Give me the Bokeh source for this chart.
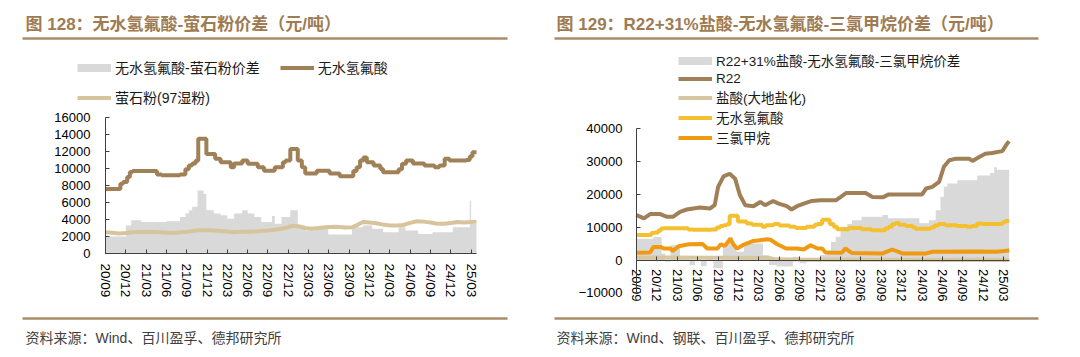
from bokeh.plotting import figure
from bokeh.models import Range1d, FixedTicker, Legend, LegendItem, LinearAxis
from bokeh.layouts import row
from bokeh.embed import file_html
from bokeh.resources import INLINE
from bokeh.core.properties import value

# ---------------- data (months since 2020-09) ----------------
tick_months = [0, 3, 6, 9, 12, 15, 18, 21, 24, 27, 30, 33, 36, 39, 42, 45, 48, 51, 54]
tick_labels = ["20/09", "20/12", "21/03", "21/06", "21/09", "21/12", "22/03", "22/06",
               "22/09", "22/12", "23/03", "23/06", "23/09", "23/12", "24/03", "24/06",
               "24/09", "24/12", "25/03"]

# 无水氢氟酸 (元/吨)
hf_m = [0, 2.2, 2.6, 3.2, 3.6, 4.0, 7.6, 8.3, 11.0, 11.8, 12.3, 12.8, 13.3, 13.7, 14.9,
        16.2, 17.0, 18.5, 19.0, 20.2, 21.0, 22.5, 23.4, 25.0, 26.2, 26.6, 27.3, 28.4, 29.0,
        29.5, 31.2, 33.1, 34.6, 36.6, 37.1, 37.6, 38.1, 38.6, 39.6, 40.6, 41.0, 43.3, 43.8,
        44.4, 45.4, 47.1, 48.6, 49.3, 50.1, 50.8, 53.3, 53.8, 54.2, 54.8]
hf_v = [7600, 8200, 8400, 9000, 9600, 9700, 9300, 9200, 9300, 9900, 10350, 10600, 10900,
        13500, 11700, 11150, 10750, 10150, 10600, 10950, 10550, 10150, 9750, 10150, 10750,
        10950, 12300, 10950, 10150, 9400, 9750, 9400, 9100, 9700, 10150, 10950, 11300, 10750,
        10350, 9950, 9550, 9900, 10550, 10950, 10600, 10350, 10150, 10350, 11150, 10950,
        11000, 11400, 11900, 11900]

# 萤石粉(97湿粉)
fl_m = [0, 1, 2, 3, 4, 6, 8, 10, 12, 13, 14, 15, 16, 17, 18, 19, 20, 21, 22, 23, 24, 25,
        26, 27, 27.5, 28.5, 29.5, 30.5, 31.5, 32.5, 34, 35.5, 36.5, 37.3, 38, 39, 40, 41,
        42, 43, 44, 45, 46, 47, 48, 49, 50, 51, 52, 53, 54, 54.8]
fl_v = [2500, 2450, 2350, 2400, 2500, 2550, 2500, 2400, 2550, 2650, 2750, 2750, 2700, 2650,
        2600, 2500, 2550, 2550, 2600, 2650, 2700, 2800, 2900, 3100, 3250, 3200, 3000, 2900,
        3000, 3100, 3150, 3050, 3100, 3400, 3700, 3650, 3550, 3400, 3300, 3300, 3350, 3600,
        3800, 3750, 3650, 3500, 3500, 3600, 3700, 3650, 3700, 3750]

# 无水氢氟酸-萤石粉价差
sp1_m = [0, 3.0, 3.8, 5.3, 9.0, 11.0, 11.8, 12.3, 12.8, 13.6, 14.5, 14.9, 16.0, 17.0, 18.0,
         19.0, 20.2, 21.0, 22.0, 23.0, 24.6, 25.0, 26.0, 27.3, 28.4, 29.5, 31.0, 32.9, 36.4,
         38.0, 39.4, 41.0, 43.3, 44.3, 46.2, 48.3, 51.3, 53.8, 54.0, 54.8]
sp1_v = [2000, 3300, 3900, 3700, 3800, 4300, 4700, 5100, 5500, 7400, 7000, 5100, 4700, 4500,
         4100, 4700, 5100, 4700, 4300, 3700, 4400, 3500, 4300, 5100, 3300, 2700, 2900, 2250,
         3100, 3300, 2900, 2500, 3100, 2700, 2300, 2500, 3100, 6200, 3500, 3500]

# R22
r22_m = [0, 1.1, 2, 3.5, 4.4, 5.4, 6.4, 7.4, 9.3, 10.8, 11.5, 12.0, 12.8, 13.7, 14.5, 15.2,
         16.0, 17.2, 18.2, 18.9, 20.1, 20.9, 22.1, 22.8, 23.6, 24.6, 25.8, 27.0, 29.3, 30.0,
         30.8, 33.7, 34.7, 36.2, 37.1, 42.0, 42.6, 43.5, 44.5, 45.2, 46.0, 47.0, 48.9, 49.4,
         50.4, 51.3, 52.3, 53.8, 54.5, 54.8]
r22_v = [13700, 12700, 14000, 14000, 13200, 13200, 14700, 15400, 16000, 15700, 16700, 22300,
         25500, 26300, 24800, 19800, 16700, 16400, 17700, 16700, 18000, 17200, 16400, 15400,
         16400, 17200, 18000, 18200, 18200, 19200, 20400, 20400, 19200, 19100, 20000, 20000,
         21800, 22300, 23800, 28400, 30400, 30900, 30900, 30200, 31400, 32400, 32600, 33200,
         35500, 36200]

# 盐酸(大地盐化)
hcl_m = [0, 5, 10, 15, 19.5, 20.5, 25, 30, 35, 40, 45, 50, 54.8]
hcl_v = [700, 750, 700, 700, 600, 200, 100, 150, 100, 50, 0, 50, 0]

# 三氯甲烷
cm_m = [0, 2.0, 2.5, 3.5, 4.0, 5.0, 5.3, 6.2, 7.7, 9.7, 10.4, 11.9, 12.4, 13.0, 13.8, 14.3,
        14.8, 15.8, 17.2, 19.2, 19.7, 20.7, 22.0, 23.6, 24.6, 25.6, 26.6, 27.3, 27.8, 30.2,
        30.7, 31.7, 36.2, 37.6, 39.1, 42.6, 43.5, 50.0, 53.0, 54.8]
cm_v = [2200, 2300, 4000, 4000, 3500, 3500, 2700, 4200, 4800, 4900, 3500, 3500, 4800, 4300,
        6500, 4600, 3500, 4700, 5800, 6300, 6200, 4800, 3500, 3500, 3200, 4500, 3500, 3500,
        2300, 2200, 3500, 2100, 2000, 3200, 2000, 2000, 2500, 2600, 2500, 2900]

# R22+31%盐酸-无水氢氟酸-三氯甲烷价差
sp2_m = [0, 2.5, 3.7, 4.2, 5.0, 6.4, 7.8, 8.6, 9.5, 10.3, 11.3, 12.7, 13.5, 14.2, 14.7,
         15.8, 18.6, 19.5, 20.6, 23.0, 24.0, 25.0, 27.0, 28.0, 28.6, 29.3, 30.0, 31.0, 31.7,
         33.1, 36.2, 37.0, 41.6, 43.0, 44.0, 44.7, 45.2, 45.7, 47.2, 50.1, 52.0, 52.6, 53.0,
         54.8]
sp2_v = [6500, 7000, 2000, -500, 4500, 1200, -1500, 1000, -1800, 800, -2500, 4500, 7000,
         5000, 2500, 5000, 1500, -1500, -2000, 1000, -1000, -500, 1500, 3000, 5500, 7100,
         10100, 11000, 12100, 13200, 13700, 12700, 11200, 12100, 15200, 19200, 22300, 23300,
         24300, 25800, 26500, 28300, 27500, 27500]

# ---------------- style ----------------
FONT = "Liberation Sans, Noto Sans CJK SC"
TITLE_C = "#9E7B52"
RULE_C = "#A88C6C"
BROWN = "#A08057"
TAN = "#D8C49C"
GRAY = "#D9D9D9"
HCL_C = "#D6C7A1"
YELLOW = "#F4C030"
ORANGE = "#F09A12"
AXIS_C = "#404040"
W, H = 540, 357


def panel(x_px0, px_per_month, y_px0, px_per_unit, y_lo, y_hi, yticks):
    """Figure whose frame covers the whole panel; data scales are anchored at the
    pixel positions of the reference axes."""
    xr = Range1d(-x_px0 / px_per_month, (W - x_px0) / px_per_month)
    yr = Range1d(-(H - y_px0) / px_per_unit, y_px0 / px_per_unit)
    p = figure(width=W, height=H, x_range=xr, y_range=yr, x_axis_location=None,
               y_axis_location=None, toolbar_location=None, output_backend="svg",
               min_border=0)
    p.extra_x_ranges = {"px": Range1d(0, W)}
    p.extra_y_ranges = {"px": Range1d(H, 0)}
    p.grid.visible = False
    p.outline_line_color = None
    xax = LinearAxis(fixed_location=0, bounds=(0, 54.8), ticker=FixedTicker(ticks=tick_months),
                     major_label_overrides={m: lab for m, lab in zip(tick_months, tick_labels)},
                     major_label_orientation="vertical")
    yax = LinearAxis(fixed_location=0, bounds=(y_lo, y_hi), ticker=FixedTicker(ticks=yticks))
    for ax in (xax, yax):
        ax.axis_line_color = AXIS_C
        ax.major_tick_line_color = AXIS_C
        ax.minor_tick_line_color = None
        ax.major_tick_in = 4
        ax.major_tick_out = 0
        ax.major_label_text_font = FONT
        ax.major_label_text_font_size = "13px"
        ax.major_label_text_color = "#000000"
    p.add_layout(xax, "below")
    p.add_layout(yax, "left")
    return p, xax, yax


def decorate(p, title, x_text, x0, x1, source):
    p.text(x=[x_text], y=[24], text=[title], text_font=value(FONT), text_font_size="17px",
           text_font_style="bold", text_color=TITLE_C, text_baseline="middle",
           x_range_name="px", y_range_name="px")
    p.segment(x0=[x0, x0], y0=[38, 318], x1=[x1, x1], y1=[38, 318], line_width=2.5,
              line_color=RULE_C, x_range_name="px", y_range_name="px")
    p.text(x=[x_text], y=[337], text=[source], text_font=value(FONT), text_font_size="14px",
           text_color="#404040", text_baseline="middle", x_range_name="px", y_range_name="px")


def legend(items, loc, orientation="vertical", spacing=0, size="13.5px"):
    return Legend(items=items, location=loc, orientation=orientation, spacing=spacing,
                  padding=0, margin=0, border_line_color=None, background_fill_alpha=0,
                  glyph_width=34, glyph_height=17, label_height=17, label_standoff=4,
                  label_text_font=FONT, label_text_font_size=size,
                  label_text_color="#1a1a1a")


# ---------------- left chart ----------------
p1, xax1, yax1 = panel(105, 6.77, 253, 8.5 / 1000, 0, 16000, list(range(0, 16001, 2000)))
xax1.major_label_standoff = 10
xax1.major_label_text_font_size = "13.5px"
yax1.major_label_standoff = 15
r_sp1 = p1.varea_step(x=sp1_m, y1=[0] * len(sp1_m), y2=sp1_v, step_mode="after",
                      fill_color=GRAY)
r_hf1 = p1.step(hf_m, hf_v, mode="after", line_width=4, line_color=BROWN)
r_fl = p1.line(fl_m, fl_v, line_width=4, line_color=TAN)
# legend swatch for the spread area (drawn off-scale, only its legend glyph is seen)
g1 = p1.line(x=[-60, -59], y=[0, 0], line_width=8, line_color=GRAY, line_cap="butt")
p1.add_layout(legend([LegendItem(label="无水氢氟酸-萤石粉价差", renderers=[g1]),
                      LegendItem(label="无水氢氟酸", renderers=[r_hf1])],
                     (77, 357 - 77), orientation="horizontal", spacing=20, size="14px"))
p1.add_layout(legend([LegendItem(label="萤石粉(97湿粉)", renderers=[r_fl])],
                     (77, 357 - 107), size="14px"))
decorate(p1, "图 128：无水氢氟酸-萤石粉价差（元/吨）", 25, 22, 507,
         "资料来源：Wind、百川盈孚、德邦研究所")

# ---------------- right chart ----------------
p2, xax2, yax2 = panel(96, 6.8, 259.5, 3.28 / 1000, -10000, 40000,
                       [-10000, 0, 10000, 20000, 30000, 40000])
xax2.major_label_standoff = 9
yax2.major_label_standoff = 14
r_sp2 = p2.varea_step(x=sp2_m, y1=[0] * len(sp2_m), y2=sp2_v, step_mode="after",
                      fill_color=GRAY)
r_r22 = p2.line(r22_m, r22_v, line_width=4, line_color=BROWN)
r_hcl = p2.line(hcl_m, hcl_v, line_width=4, line_color=HCL_C)
r_hf2 = p2.step(hf_m, hf_v, mode="after", line_width=4, line_color=YELLOW)
r_cm = p2.line(cm_m, cm_v, line_width=4, line_color=ORANGE)
g2 = p2.line(x=[-60, -59], y=[0, 0], line_width=8, line_color=GRAY, line_cap="butt")
p2.add_layout(legend([LegendItem(label="R22+31%盐酸-无水氢氟酸-三氯甲烷价差", renderers=[g2]),
                      LegendItem(label="R22", renderers=[r_r22]),
                      LegendItem(label="盐酸(大地盐化)", renderers=[r_hcl]),
                      LegendItem(label="无水氢氟酸", renderers=[r_hf2]),
                      LegendItem(label="三氯甲烷", renderers=[r_cm])],
                     (138, 357 - 147)))
decorate(p2, "图 129：R22+31%盐酸-无水氢氟酸-三氯甲烷价差（元/吨）", 16, 14, 498,
         "资料来源：Wind、钢联、百川盈孚、德邦研究所")

page = row(p1, p2)
open("out.html", "w").write(file_html(page, INLINE))
